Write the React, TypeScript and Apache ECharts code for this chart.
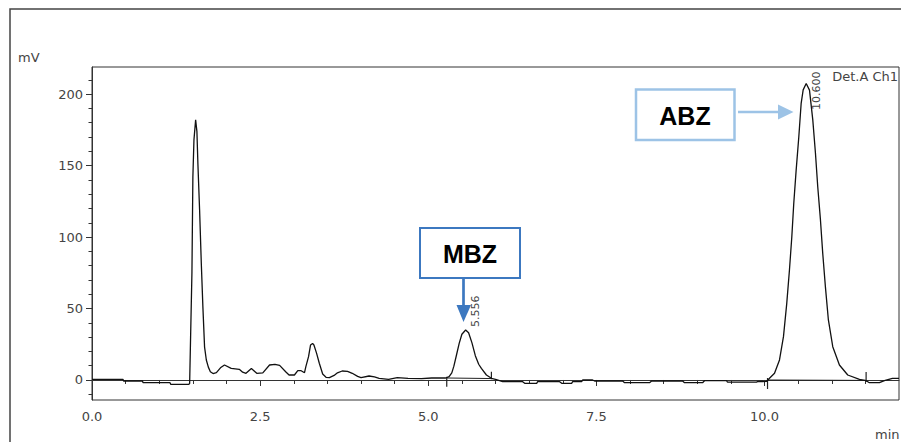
import React, { useEffect, useRef } from "react";
import * as echarts from "echarts";

// Retention time (min) and detector signal (mV)
const TIME_MIN = [
  0, 0.46, 0.47, 0.75, 0.76, 1.16, 1.17, 1.44, 1.452, 1.466, 1.486, 1.5, 1.516, 1.541, 1.56, 1.575, 1.6,
  1.625, 1.649, 1.674, 1.7, 1.73, 1.76, 1.8, 1.85, 1.91, 1.97, 2.07, 2.19, 2.24, 2.29, 2.37, 2.45, 2.54,
  2.64, 2.72, 2.79, 2.88, 2.93, 3.01, 3.06, 3.11, 3.16, 3.18, 3.22, 3.25, 3.28, 3.3, 3.34, 3.38, 3.43,
  3.48, 3.53, 3.6, 3.65, 3.72, 3.8, 3.87, 3.95, 4.0, 4.12, 4.2, 4.27, 4.41, 4.54, 4.7, 4.9, 5.05, 5.26,
  5.31, 5.35, 5.38, 5.42, 5.46, 5.5, 5.556, 5.6, 5.65, 5.7, 5.75, 5.79, 5.865, 5.939, 6.0, 6.107, 6.404,
  6.434, 6.612, 6.627, 6.954, 6.984, 7.132, 7.147, 7.281, 7.296, 7.444, 7.474, 7.89, 7.92, 8.291, 8.321,
  8.782, 8.811, 9.079, 9.108, 9.435, 9.45, 9.881, 9.896, 10.03, 10.045, 10.074, 10.149, 10.223, 10.282,
  10.331, 10.371, 10.406, 10.435, 10.471, 10.51, 10.545, 10.575, 10.62, 10.669, 10.718, 10.758, 10.792,
  10.832, 10.866, 10.906, 10.95, 11.015, 11.114, 11.238, 11.412, 11.511, 11.56, 11.709, 11.783, 11.902, 12.0,
];
const SIGNAL_MV = [
  0.5, 0.5, -0.7, -0.7, -1.9, -1.9, -3.0, -3.0, -2.5, 30, 75, 142, 168, 182, 174, 151, 119,
  82, 51, 23, 14, 9, 5.8, 4.5, 5.1, 8.5, 10.5, 8.1, 7.5, 5.5, 4.7, 8.1, 4.7, 5.0,
  10.5, 11, 10.2, 5.8, 3.5, 3.5, 6.5, 6.5, 5.1, 9.3, 16.3, 24.5, 25.6, 24.5, 18.6, 11.7, 4.2,
  1.9, 1.6, 3.2, 5.0, 6.3, 6.0, 4.7, 2.5, 1.6, 2.8, 2.2, 1.2, 0.5, 1.6, 1.2, 1.0, 1.4, 1.4,
  2.3, 5.0, 9.5, 17.5, 25.6, 32.0, 35, 33, 26, 17, 11, 8.1, 3.5, 1.2, 0.5, -1.2, -1.2,
  -2.3, -2.3, -1.2, -1.2, -2.3, -2.3, -1.2, -1.2, 0, 0, -0.7, -0.7, -1.9, -1.9, -0.7,
  -0.7, -1.9, -1.9, -0.5, -0.5, -1.5, -1.5, -1.2, -1.0, -0.3, 1.2, 4.7, 14, 30.3,
  53.6, 77, 100, 123.5, 147, 170, 193.5, 203, 207.5, 202.8, 182, 158.5, 135,
  112, 88.6, 65, 42, 23.3, 10.5, 3.5, 0.5, -0.5, -1.9, -1.9, -0.5, 1.2, 1.2,
];

// Peak labels (retention time, peak height)
const PEAK_TIMES = [5.556, 10.62];
const PEAK_HEIGHTS = [35, 207.5];
const PEAK_LABELS = ["5.556", "10.600"];

// Integration baselines: [start t, start v, end t, end v]
const BASELINES = [
  [5.275, 1.4, 5.939, 1.0],
  [10.045, 0.0, 11.511, -0.3],
];
// Integration marks: [t, top v, bottom v]
const MARKS = [
  [5.275, 2.3, -4.7],
  [5.939, 5.8, 0.5],
  [10.045, 1.4, -6.3],
  [11.511, 5.6, -1.4],
];

const X_MAJOR = [0, 2.5, 5, 7.5, 10];
const X_MINOR = [0, 0.5, 1, 1.5, 2, 2.5, 3, 3.5, 4, 4.5, 5, 5.5, 6, 6.5, 7, 7.5, 8, 8.5, 9, 9.5, 10, 10.5, 11, 11.5];
const Y_MAJOR = [0, 50, 100, 150, 200];
const Y_MINOR = [-10, 0, 10, 20, 30, 40, 50, 60, 70, 80, 90, 100, 110, 120, 130, 140, 150, 160, 170, 180, 190, 200, 210];

const FONT = "DejaVu Sans";
const TXT = "#444";

export default function App() {
  const ref = useRef<HTMLDivElement>(null);

  useEffect(() => {
    document.body.style.margin = "0";
    const chart = echarts.init(ref.current!, null, { renderer: "svg" });

    const trace = TIME_MIN.map((t, i) => [t, SIGNAL_MV[i]]);

    const baselineSeries = BASELINES.map((b) => ({
      type: "line",
      data: [
        [b[0], b[1]],
        [b[2], b[3]],
      ],
      symbol: "none",
      silent: true,
      lineStyle: { color: "#222", width: 1 },
      z: 3,
    }));
    const markSeries = MARKS.map((m) => ({
      type: "line",
      data: [
        [m[0], m[1]],
        [m[0], m[2]],
      ],
      symbol: "none",
      silent: true,
      lineStyle: { color: "#222", width: 1.2 },
      z: 3,
    }));

    const option: any = {
      animation: false,
      backgroundColor: "#fff",
      grid: {
        left: 92,
        right: 2,
        top: 67,
        bottom: 42,
        show: true,
        borderColor: "#333",
        borderWidth: 1,
        backgroundColor: "transparent",
      },
      xAxis: [
        {
          type: "value",
          min: 0,
          max: 12,
          axisLine: { show: true, lineStyle: { color: "#333", width: 1 } },
          axisTick: { show: true, length: 6, customValues: X_MAJOR, lineStyle: { color: "#333" } },
          axisLabel: {
            customValues: X_MAJOR,
            formatter: (v: number) => v.toFixed(1),
            fontFamily: FONT,
            fontSize: 13,
            color: TXT,
            margin: 10,
          },
          splitLine: { show: false },
        },
        {
          type: "value",
          min: 0,
          max: 12,
          position: "bottom",
          axisLine: { show: false },
          axisTick: { show: true, length: 4, customValues: X_MINOR, lineStyle: { color: "#333" } },
          axisLabel: { show: false },
          splitLine: { show: false },
        },
      ],
      yAxis: [
        {
          type: "value",
          min: -14,
          max: 219,
          axisLine: { show: true, lineStyle: { color: "#333", width: 1 } },
          axisTick: { show: true, length: 6, customValues: Y_MAJOR, lineStyle: { color: "#333" } },
          axisLabel: {
            customValues: Y_MAJOR,
            fontFamily: FONT,
            fontSize: 13,
            color: TXT,
            margin: 9,
          },
          splitLine: { show: false },
        },
        {
          type: "value",
          min: -14,
          max: 219,
          position: "left",
          axisLine: { show: false },
          axisTick: { show: true, length: 3.5, customValues: Y_MINOR, lineStyle: { color: "#333" } },
          axisLabel: { show: false },
          splitLine: { show: false },
        },
      ],
      series: [
        {
          type: "line",
          data: trace,
          symbol: "none",
          lineStyle: { color: "#111", width: 1.3 },
          z: 4,
          markPoint: {
            symbol: "circle",
            symbolSize: 1,
            itemStyle: { color: "transparent" },
            silent: true,
            label: {
              show: true,
              rotate: 90,
              align: "left",
              verticalAlign: "middle",
              fontFamily: FONT,
              fontSize: 11,
              color: TXT,
              formatter: (p: any) => p.name,
            },
            data: PEAK_TIMES.map((t, i) => ({
              name: PEAK_LABELS[i],
              coord: [t, PEAK_HEIGHTS[i]],
              label: { position: i === 0 ? [10.5, -2.5] : [10.5, 27] },
            })),
          },
        },
        ...baselineSeries,
        ...markSeries,
      ],
      graphic: [
        {
          type: "rect",
          shape: { x: 10, y: 9, width: 1000, height: 1000 },
          style: { fill: "none", stroke: "#444", lineWidth: 1.5 },
          silent: true,
          z: 1,
        },
        { type: "text", x: 18, y: 57, style: { text: "mV", font: `13px "${FONT}"`, fill: TXT, verticalAlign: "middle" } },
        { type: "text", x: 875, y: 434, style: { text: "min", font: `13px "${FONT}"`, fill: TXT, verticalAlign: "middle" } },
        {
          type: "text",
          x: 898,
          y: 76,
          style: { text: "Det.A Ch1", font: `13px "${FONT}"`, fill: TXT, align: "right", verticalAlign: "middle" },
        },
        // MBZ annotation
        {
          type: "rect",
          shape: { x: 420, y: 228, width: 100, height: 50 },
          style: { fill: "#fff", stroke: "#3c78c0", lineWidth: 2 },
          z: 10,
        },
        {
          type: "text",
          x: 470,
          y: 254,
          style: {
            text: "MBZ",
            font: 'bold 25px "Liberation Sans"',
            fill: "#000",
            align: "center",
            verticalAlign: "middle",
          },
          z: 11,
        },
        {
          type: "line",
          shape: { x1: 463.5, y1: 279, x2: 463.5, y2: 307 },
          style: { stroke: "#3c78c0", lineWidth: 2.7 },
          z: 10,
        },
        {
          type: "polygon",
          shape: { points: [[456.5, 305], [471, 305], [463.5, 322]] },
          style: { fill: "#3c78c0" },
          z: 10,
        },
        // ABZ annotation
        {
          type: "rect",
          shape: { x: 636, y: 89.5, width: 98.5, height: 50.5 },
          style: { fill: "#fff", stroke: "#9dc3e6", lineWidth: 2.5 },
          z: 10,
        },
        {
          type: "text",
          x: 685,
          y: 116,
          style: {
            text: "ABZ",
            font: 'bold 25px "Liberation Sans"',
            fill: "#000",
            align: "center",
            verticalAlign: "middle",
          },
          z: 11,
        },
        {
          type: "line",
          shape: { x1: 738, y1: 112, x2: 780, y2: 112 },
          style: { stroke: "#9dc3e6", lineWidth: 2.5 },
          z: 10,
        },
        {
          type: "polygon",
          shape: { points: [[778, 104.5], [778, 119.5], [793.5, 112]] },
          style: { fill: "#9dc3e6" },
          z: 10,
        },
      ],
    };

    chart.setOption(option);
    return () => chart.dispose();
  }, []);

  return <div ref={ref} style={{ width: 901, height: 442 }} />;
}
